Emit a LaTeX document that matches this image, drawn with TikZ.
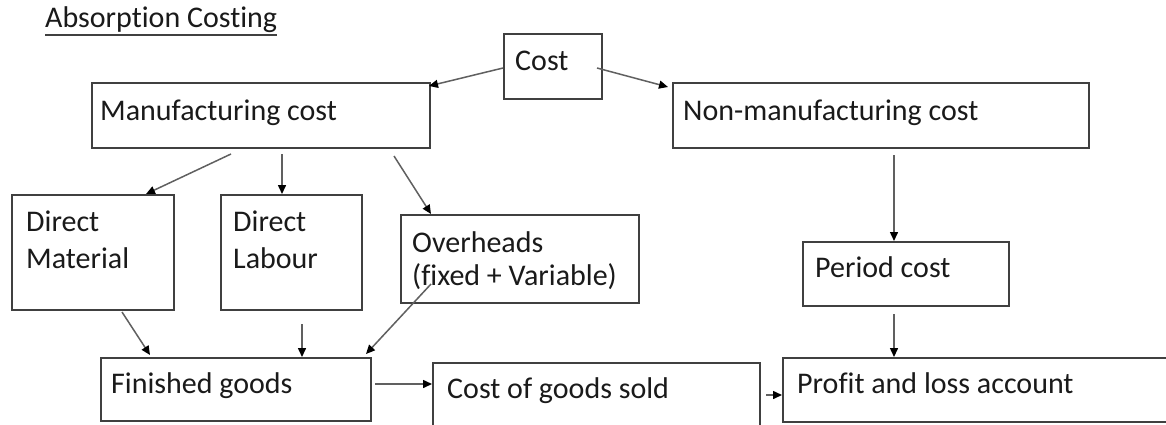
\documentclass[tikz,border=0pt]{standalone}
\usepackage{fontspec}
\setmainfont{Carlito}[Ligatures=CommonOff]
\usetikzlibrary{arrows.meta}
\definecolor{boxc}{HTML}{404040}
\definecolor{arrc}{HTML}{606060}
\definecolor{txtc}{HTML}{1A1A1A}
\tikzset{
  box/.style={draw=boxc, line width=2pt, rectangle, inner sep=0pt, anchor=north west},
  txt/.style={inner sep=0pt, anchor=base west, text=txtc, align=left,
    font=\fontsize{30}{37}\selectfont},
  arr/.style={draw=arrc, line width=1.5pt,
    -{Triangle[length=9pt,width=8pt,color=black]}},
}
\begin{document}
\begin{tikzpicture}[x=1pt,y=-1pt]
\path[use as bounding box, clip] (0,0) rectangle (1166,424);
\fill[white] (0,0) rectangle (1166,424);

% title
\node[txt] (title) at (45,27) {Absorption Costing};
\draw[boxc, line width=1.4pt] ([yshift=-8pt]title.base west) -- ([yshift=-8pt]title.base east);

% boxes
\node[box, minimum width=98pt,  minimum height=65pt] (cost)   at (503,33) {};
\node[box, minimum width=338pt, minimum height=65pt] (man)    at (91,82) {};
\node[box, minimum width=416pt, minimum height=65pt] (nonman) at (672,82) {};
\node[box, minimum width=162pt, minimum height=115pt] (dm)    at (11,194) {};
\node[box, minimum width=141pt, minimum height=115pt] (dl)    at (220,194) {};
\node[box, minimum width=238pt, minimum height=88pt] (ov)     at (400,214) {};
\node[box, minimum width=206pt, minimum height=64pt] (period) at (802,241) {};
\node[box, minimum width=270pt, minimum height=63pt] (fg)     at (100,357) {};
\node[box, minimum width=327pt, minimum height=80pt] (cogs)   at (432,362) {};
\node[box, minimum width=420pt, minimum height=64pt] (pl)     at (782,357) {};

% texts (multi-line nodes: base = last line)
\node[txt] (cost-t)   at ([shift={(12,37)}]cost.north west) {Cost};
\node[txt] (man-t)    at ([shift={(9,38)}]man.north west) {Manufacturing cost};
\node[txt] (nonman-t) at ([shift={(11,38)}]nonman.north west) {Non-manufacturing cost};
\node[txt] (dm-t)     at ([shift={(15,74)}]dm.north west) {Direct\\Material};
\node[txt] (dl-t)     at ([shift={(13,74)}]dl.north west) {Direct\\Labour};
\node[txt, font=\fontsize{30}{33}\selectfont] (ov-t) at ([shift={(12,71)}]ov.north west) {Overheads\\(fixed + Variable)};
\node[txt] (period-t) at ([shift={(13,36)}]period.north west) {Period cost};
\node[txt] (fg-t)     at ([shift={(11,36)}]fg.north west) {Finished goods};
\node[txt] (cogs-t)   at ([shift={(15,36)}]cogs.north west) {Cost of goods sold};
\node[txt] (pl-t)     at ([shift={(15,36)}]pl.north west) {Profit and loss account};

% connectors
\draw[arr] ([shift={(0,35)}]cost.north west) -- ([shift={(-2,4)}]man.north east);
\draw[arr] ([shift={(-6,35)}]cost.north east) -- ([shift={(-4,5)}]nonman.north west);
\draw[arr] ([shift={(140,5)}]man.south west) -- ([shift={(-29,0)}]dm.north east);
\draw[arr] ([shift={(191,5)}]man.south west) -- ([shift={(62,0)}]dl.north west);
\draw[arr] ([shift={(303,7)}]man.south west) -- ([shift={(31,0)}]ov.north west);
\draw[arr] ([shift={(222,6)}]nonman.south west) -- ([shift={(92,0)}]period.north west);
\draw[arr] ([shift={(111,1)}]dm.south west) -- ([shift={(50,-2)}]fg.north west);
\draw[arr] ([shift={(82,13)}]dl.south west) -- ([shift={(202,0)}]fg.north west);
\draw[arr] ([shift={(31,-20)}]ov.south west) -- ([shift={(-6,-3)}]fg.north east);
\draw[arr] ([shift={(3,27)}]fg.north east) -- ([shift={(0,22)}]cogs.north west);
\draw[arr] ([shift={(5,33)}]cogs.north east) -- ([shift={(0,38)}]pl.north west);
\draw[arr] ([shift={(92,7)}]period.south west) -- ([shift={(112,0)}]pl.north west);
\end{tikzpicture}
\end{document}
